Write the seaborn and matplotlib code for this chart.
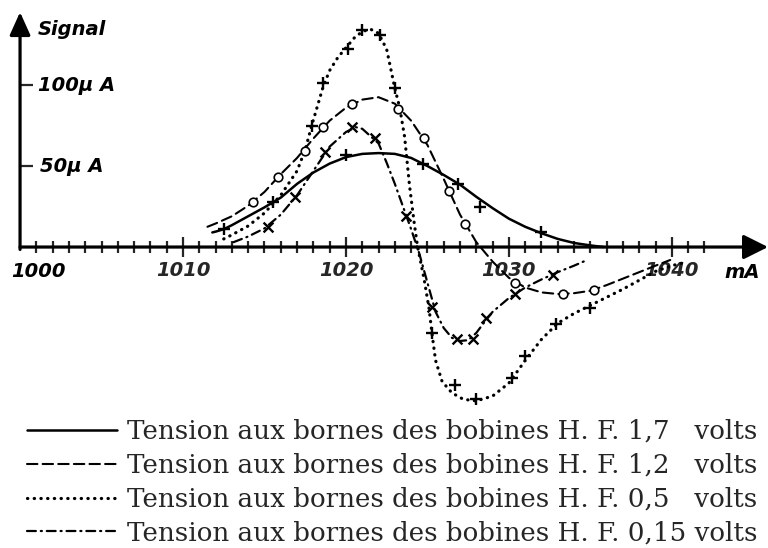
import matplotlib
matplotlib.use("Agg")
import matplotlib.pyplot as plt
import seaborn as sns

# courbes : courant en mA, signal en microampères
ma_17 = [1011.8, 1012, 1012.5, 1013, 1014, 1015, 1016, 1017, 1018, 1019, 1020, 1021, 1022,
         1023, 1024, 1025, 1026, 1027, 1028, 1029, 1030, 1031, 1032, 1033, 1034, 1035, 1035.8]
sig_17 = [9, 9.5, 11, 13.5, 19, 24.5, 30.5, 39, 46, 51.5, 55.5, 57.5, 58,
          57.5, 55, 50, 44.5, 38.5, 31, 24, 17.5, 12.5, 8.5, 5, 2.5, 1, 0]
pts_ma_17 = [1012.5, 1015.5, 1020.0, 1024.7, 1026.9, 1028.2, 1032.0]
pts_sig_17 = [11, 27.5, 57, 51, 39, 25, 9]

ma_12 = [1011.5, 1012, 1013, 1014, 1015, 1016, 1017, 1018, 1019, 1020, 1021, 1022, 1023,
         1024, 1025, 1026, 1027, 1028, 1029, 1030, 1031, 1032, 1033, 1034, 1035, 1036,
         1037, 1038, 1039, 1039.9]
sig_12 = [12.5, 14.5, 19, 25.5, 34, 45, 55, 67, 78, 86, 91, 92.5, 88.5,
          78, 63, 42, 20, 3, -9, -19, -25, -28, -29, -28.5, -27, -23.5,
          -19.5, -15.5, -11.5, -8]
pts_ma_12 = [1014.3, 1015.8, 1017.5, 1018.6, 1020.4, 1023.2, 1024.8, 1026.3, 1027.3,
             1030.4, 1033.3, 1035.2]
pts_sig_12 = [27.5, 43, 59, 74, 88, 85, 67.5, 34.5, 14.5, -22.5, -29, -26.5]

ma_05 = [1012.5, 1013, 1014, 1015, 1016, 1017, 1017.5, 1017.9, 1018.6, 1019, 1019.5, 1020,
         1020.5, 1021, 1021.5, 1022, 1022.5, 1023, 1023.3, 1023.6, 1023.9, 1024.2, 1024.4,
         1024.8, 1025.1, 1025.3, 1025.5, 1025.9, 1026.5, 1027.2, 1028, 1029, 1030, 1031,
         1032, 1033, 1034, 1035, 1036, 1037, 1038, 1039, 1040, 1040.6]
sig_05 = [5, 7.5, 13, 21, 32, 47, 60, 75, 99, 109, 117, 123,
          129, 133, 134.5, 132, 122, 98, 86, 68, 38, 14, 0,
          -20, -38, -55, -70, -83, -90, -94, -95, -92, -84, -70,
          -57, -47, -41, -36, -31, -26, -20.5, -15, -11.5, -10]
pts_ma_05 = [1017.9, 1018.6, 1020.1, 1021.0, 1022.1, 1023.0, 1025.3, 1026.7, 1028.0,
             1030.2, 1031.0, 1032.9, 1035.0]
pts_sig_05 = [75, 101, 122, 134, 131, 98, -53, -85, -94, -81, -67.5, -47.5, -37.5]

ma_015 = [1013.1, 1014, 1015, 1016, 1017, 1018, 1019, 1020, 1020.6, 1021, 1022, 1022.5,
          1023, 1023.5, 1024, 1024.5, 1025, 1025.5, 1026, 1026.5, 1027, 1027.5, 1028,
          1028.6, 1029, 1030, 1031, 1032, 1033, 1034, 1034.8]
sig_015 = [3, 6.5, 11.5, 20, 32, 47, 62, 71, 74, 73, 64, 52,
           39, 25, 11, -4, -22, -40, -50, -56, -58, -57.5, -53,
           -45, -40, -31.5, -25, -20, -15.5, -11.5, -8]
pts_ma_015 = [1015.2, 1016.9, 1018.7, 1020.4, 1021.8, 1023.7, 1025.3, 1026.8, 1027.8,
              1028.6, 1030.4, 1032.7]
pts_sig_015 = [12.5, 31, 58.5, 74, 67, 19, -37, -57, -57, -44, -29, -17.5]

labels = ["Tension aux bornes des bobines H. F. 1,7   volts",
          "Tension aux bornes des bobines H. F. 1,2   volts",
          "Tension aux bornes des bobines H. F. 0,5   volts",
          "Tension aux bornes des bobines H. F. 0,15 volts"]

series = [
    (ma_17, sig_17, pts_ma_17, pts_sig_17, "-", 1.8, "+"),
    (ma_12, sig_12, pts_ma_12, pts_sig_12, (0, (5, 2.5)), 1.5, "o"),
    (ma_05, sig_05, pts_ma_05, pts_sig_05, (0, (0.1, 2.0)), 2.3, "+"),
    (ma_015, sig_015, pts_ma_015, pts_sig_015, (0, (4, 2.2, 0.5, 2.2)), 1.6, "x"),
]

sns.set_theme(style="white")
plt.rcParams["font.family"] = ["DejaVu Sans"]

fig = plt.figure(figsize=(7.68, 5.48), dpi=100)
ax = fig.add_axes([0, 0, 1, 1])

handles = []
for (cx, cy, px, py, ls, lw, mk), lab in zip(series, labels):
    sns.lineplot(x=cx, y=cy, ax=ax, color="black", linestyle=ls, linewidth=lw,
                 dash_capstyle="round", sort=False, zorder=3)
    handles.append(ax.lines[-1])
    if mk == "o":
        sns.scatterplot(x=px, y=py, ax=ax, marker="o", s=38, color="white",
                        edgecolor="black", linewidth=1.2, zorder=4)
    else:
        sns.scatterplot(x=px, y=py, ax=ax, marker=mk, s=70 if mk == "+" else 50,
                        color="black", linewidth=1.7, zorder=4)

ax.set_xlim(998.77, 1045.9)
ax.set_ylim(-185.8, 152.5)
for s in ax.spines.values():
    s.set_visible(False)

# axes fléchés
ax.annotate("", xy=(1045.9, 0), xytext=(1000, 0),
            arrowprops=dict(arrowstyle="-|>,head_length=1.0,head_width=0.5",
                            mutation_scale=15, lw=2.3, color="black",
                            shrinkA=0, shrinkB=0))
ax.annotate("", xy=(1000, 145), xytext=(1000, -1.5),
            arrowprops=dict(arrowstyle="-|>,head_length=1.0,head_width=0.45",
                            mutation_scale=14, lw=2.3, color="black",
                            shrinkA=0, shrinkB=0))

ax.spines["bottom"].set_position(("data", 0))
ax.spines["left"].set_position(("data", 1000))
ax.set_xticks([1010, 1020, 1030, 1040])
ax.set_xticks([t for t in range(1001, 1043) if t % 10], minor=True)
ax.set_xticklabels(["1010", "1020", "1030", "1040"], fontsize=14,
                   fontweight="bold", fontstyle="italic")
ax.tick_params(axis="x", which="major", direction="inout", length=14, width=1.6,
               pad=3, bottom=True, labelbottom=True)
ax.tick_params(axis="x", which="minor", direction="inout", length=8, width=1.6,
               bottom=True)
ax.set_yticks([50, 100])
ax.set_yticklabels([])
ax.tick_params(axis="y", which="major", direction="in", length=9, width=1.6, left=True)
ax.set_xlabel("")
ax.set_ylabel("")

lab_kw = dict(fontsize=14, fontweight="bold", fontstyle="italic", color="black")
ax.text(1001.1, -15, "1000", ha="center", va="center", **lab_kw)
ax.text(1044.3, -15.5, "mA", ha="center", va="center", **lab_kw)
ax.text(1001.1, 100, "100µ A", ha="left", va="center", **lab_kw)
ax.text(1001.2, 50, "50µ A", ha="left", va="center", **lab_kw)
ax.text(1001.1, 134, "Signal", ha="left", va="center", **lab_kw)

ax.legend(handles, labels, loc="upper left", bbox_to_anchor=(27 / 768, 1 - 419 / 548),
          bbox_transform=fig.transFigure, frameon=False,
          prop={"family": "DejaVu Serif", "size": 18.8}, handlelength=3.45,
          handletextpad=0.38, labelspacing=0.34, borderpad=0, borderaxespad=0)

fig.savefig("out.png", dpi=100)
